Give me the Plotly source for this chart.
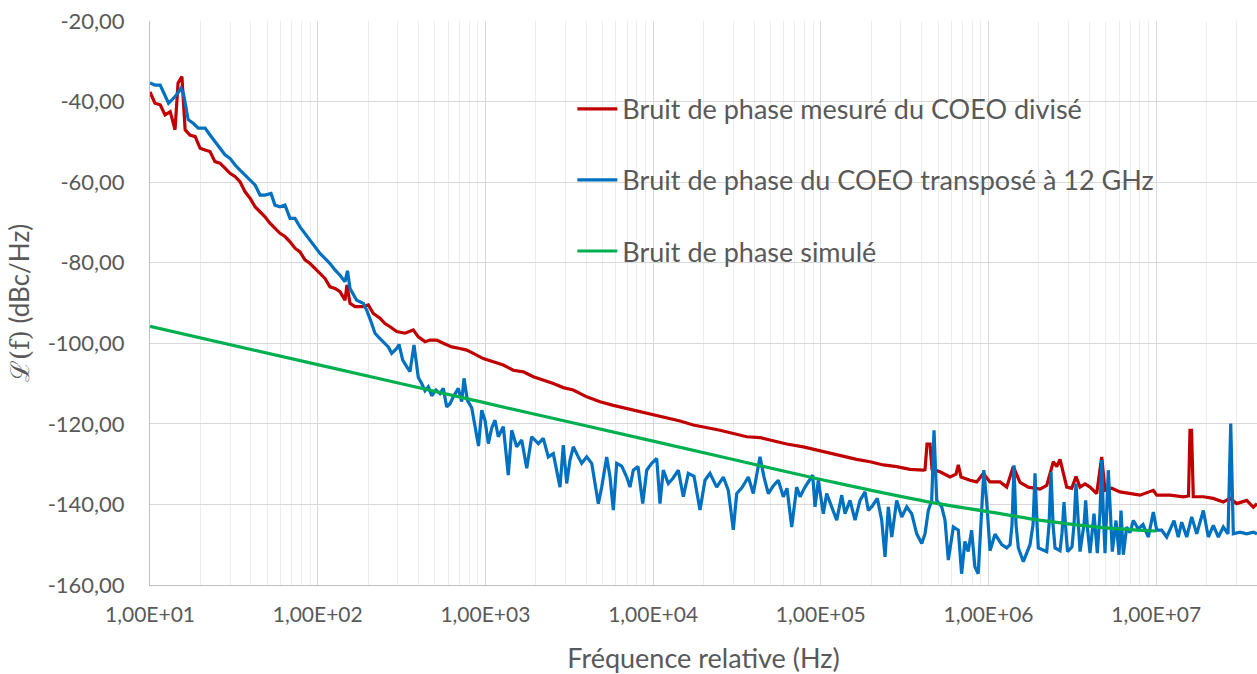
import plotly.graph_objects as go

# ---- Data -----------------------------------------------------------------
# Measured phase noise of the divided COEO (Hz, dBc/Hz)
red_freq = [10, 10.7, 11.5, 12.3, 13.2, 14.1, 14.7, 15.5, 16.2, 17.3, 18.6, 19.9,
            21.3, 22.8, 24.4, 26.1, 28.0, 30.0, 32.1, 34.4, 36.9, 39.5, 42.3, 45.3,
            48.5, 51.9, 55.6, 59.6, 63.8, 68.4, 73.2, 78.4, 84.0, 90.0, 96.3, 103.2,
            110.5, 118.4, 126.8, 135.8, 145.5, 149.5, 155.8, 166.9, 187.1, 200.3,
            214.6, 235.3, 252.0, 269.9, 295.9, 331.6, 371.7, 398.0, 436.4, 467.4,
            512.3, 561.0, 629.6, 705.6, 773.5, 847.2, 971.6, 1115, 1279, 1467, 1683,
            1931, 2215, 2541, 2914, 3343, 4018, 4825, 5790, 6959, 8353, 10030, 12050,
            14470, 17370, 20870, 25060, 30080, 36150, 43390, 52100, 62610, 78650,
            94510, 113500, 136200, 163700, 196600, 235900, 283500, 340300, 408500,
            418200, 429900, 448000, 460400, 513800, 589500, 640100, 660600, 685600,
            775700, 850600, 931100, 1.021e6, 1.171e6, 1.284e6, 1.406e6, 1.541e6,
            1.727e6, 2.028e6, 2.224e6, 2.435e6, 2.552e6, 2.670e6, 2.927e6, 3.134e6,
            3.325e6, 3.513e6, 3.762e6, 4.029e6, 4.418e6, 4.732e6, 4.951e6, 5.429e6,
            6.083e6, 6.981e6, 8.008e6, 9.610e6, 1.007e7, 1.208e7, 1.451e7, 1.558e7,
            1.590e7, 1.624e7, 1.664e7, 1.910e7, 2.191e7, 2.513e7, 2.755e7, 3.020e7,
            3.464e7, 3.794e7, 3.991e7]
red_dbc = [-37.6, -40.4, -40.8, -43.3, -42.5, -47.0, -35.4, -33.8, -47.0, -48.3, -48.7,
           -51.6, -52.0, -52.4, -54.9, -55.3, -56.5, -57.8, -58.6, -59.9, -62.4, -64.0,
           -66.1, -67.3, -68.6, -70.2, -71.5, -72.7, -73.5, -74.8, -76.4, -77.3, -79.3,
           -80.2, -81.4, -82.6, -83.9, -86.0, -86.4, -87.2, -89.3, -85.5, -90.1, -90.9,
           -90.9, -90.5, -92.6, -93.8, -95.1, -95.9, -97.1, -97.5, -96.7, -98.4, -99.6,
           -99.2, -99.2, -100.0, -100.9, -101.3, -101.7, -102.5, -103.8, -104.6,
           -105.4, -106.7, -107.1, -108.3, -109.1, -110.0, -111.0, -111.6, -113.3,
           -114.5, -115.4, -116.2, -117.0, -117.8, -118.4, -119.3, -120.3, -120.9,
           -121.6, -122.4, -123.2, -123.4, -124.3, -125.0, -125.7, -126.5, -127.2,
           -128.0, -128.8, -129.4, -130.2, -130.6, -131.3, -131.5, -131.4, -125.0,
           -125.0, -131.3, -131.9, -133.2, -132.5, -130.2, -133.2, -134.0, -134.4,
           -132.3, -134.4, -134.4, -135.7, -130.6, -134.5, -135.7, -136.2, -135.3,
           -129.4, -130.6, -128.8, -135.7, -136.0, -133.1, -135.7, -134.9, -135.7,
           -137.3, -128.2, -136.5, -136.0, -136.9, -137.3, -137.7, -136.5, -137.7,
           -137.7, -138.1, -137.9, -121.6, -121.6, -138.1, -138.1, -138.5, -139.4,
           -138.5, -139.8, -139.0, -140.7, -139.8]

# Phase noise of the COEO transposed to 12 GHz (Hz, dBc/Hz)
blue_freq = [10, 10.7, 11.5, 12.3, 12.9, 13.5, 14.4, 15.3, 15.8, 16.9, 18.1, 19.4,
             21.3, 22.8, 24.4, 26.1, 28.0, 30.0, 32.1, 34.4, 36.9, 39.5, 42.3, 45.3,
             48.5, 52.7, 55.6, 59.6, 63.8, 68.4, 73.2, 78.4, 84.0, 90.0, 96.3, 103.2,
             110.5, 118.4, 126.8, 135.8, 145.5, 150.5, 155.8, 170.8, 187.1, 196.0,
             209.9, 219.6, 229.9, 246.2, 263.6, 276.2, 295.9, 305.4, 321.3, 339.5,
             355.2, 375.2, 398.0, 417.0, 436.4, 456.6, 478.4, 507.5, 536.2, 561.0,
             587.9, 615.1, 643.6, 689.4, 722.3, 745.5, 780.0, 828.8, 867.1, 909.8,
             950.6, 994.5, 1041, 1091, 1141, 1194, 1279, 1369, 1435, 1537, 1646, 1764,
             1888, 2068, 2215, 2372, 2541, 2785, 2914, 3053, 3195, 3343, 3581, 3752,
             4018, 4305, 4713, 4937, 5289, 5535, 5790, 6066, 6499, 6959, 7283, 7620,
             8126, 8670, 9160, 9810, 10510, 10990, 11500, 12320, 13140, 14140, 15140,
             16210, 17540, 19040, 20390, 21840, 23940, 26230, 28080, 30080, 31510,
             33900, 36960, 39590, 43390, 45850, 48640, 51880, 55790, 59760, 62870,
             67060, 71820, 75150, 80520, 89460, 92330, 96630, 103500, 108400, 116100,
             124400, 133300, 139400, 149300, 160000, 171300, 183500, 192000, 202000,
             217300, 230800, 241500, 252700, 264800, 283500, 303700, 325300, 348400,
             373200, 399700, 418200, 437700, 458500, 473200, 491000, 526000, 550400,
             576000, 617000, 660600, 691100, 723100, 756400, 793000, 829600, 868000,
             897100, 913200, 938600, 978000, 1.021e6, 1.093e6, 1.199e6, 1.284e6,
             1.344e6, 1.381e6, 1.419e6, 1.459e6, 1.506e6, 1.613e6, 1.727e6, 1.768e6,
             1.843e6, 1.894e6, 1.947e6, 1.982e6, 2.224e6, 2.296e6, 2.359e6, 2.425e6,
             2.493e6, 2.670e6, 2.744e6, 2.820e6, 2.899e6, 2.960e6, 3.147e6, 3.235e6,
             3.325e6, 3.418e6, 3.513e6, 3.711e6, 3.798e6, 3.893e6, 4.029e6, 4.257e6,
             4.454e6, 4.622e6, 4.732e6, 4.837e6, 4.951e6, 5.181e6, 5.473e6, 5.758e6,
             6.000e6, 6.167e6, 6.365e6, 6.668e6, 6.981e6, 7.304e6, 7.824e6, 8.344e6,
             8.975e6, 9.610e6, 1.007e7, 1.078e7, 1.155e7, 1.277e7, 1.354e7, 1.419e7,
             1.520e7, 1.628e7, 1.744e7, 1.910e7, 2.045e7, 2.191e7, 2.346e7, 2.513e7,
             2.680e7, 2.782e7, 2.883e7, 3.160e7, 3.464e7, 3.794e7, 3.991e7]
blue_dbc = [-35.4, -35.9, -35.9, -38.8, -40.4, -39.6, -38.3, -36.7, -37.9, -44.5, -45.4,
            -46.6, -46.6, -48.3, -49.9, -51.6, -53.2, -54.1, -55.7, -57.0, -58.2, -59.5,
            -60.7, -63.2, -63.2, -62.8, -65.7, -66.1, -65.7, -69.0, -69.0, -71.1, -72.7,
            -74.4, -76.0, -77.7, -78.9, -80.2, -81.8, -83.1, -84.7, -82.0, -86.4, -89.3,
            -90.1, -91.8, -95.1, -97.5, -98.4, -99.6, -100.9, -102.5, -101.3, -100.3,
            -104.2, -105.8, -107.0, -100.4, -108.5, -110.0, -111.8, -110.8, -113.0,
            -111.6, -112.5, -111.2, -115.8, -115.0, -113.3, -111.2, -114.5, -108.7,
            -114.1, -116.0, -121.0, -125.5, -116.6, -119.1, -124.9, -121.0, -119.1,
            -123.2, -120.7, -132.7, -121.6, -125.7, -124.0, -131.0, -123.2, -124.9,
            -123.6, -128.2, -127.4, -135.7, -125.3, -134.8, -129.0, -125.7, -128.2,
            -129.8, -128.2, -129.8, -139.8, -135.7, -128.2, -133.2, -141.4, -129.8,
            -130.5, -133.2, -135.7, -131.5, -130.6, -139.8, -131.5, -129.8, -128.6,
            -139.8, -131.5, -134.8, -133.5, -131.5, -138.1, -132.3, -133.0, -141.4,
            -134.0, -132.3, -135.7, -133.2, -136.5, -146.3, -137.3, -135.8, -133.2,
            -137.3, -128.2, -133.2, -137.3, -135.5, -134.0, -138.1, -136.0, -145.6,
            -135.7, -138.1, -135.7, -132.7, -140.6, -134.0, -142.3, -137.3, -140.6,
            -143.9, -137.7, -142.3, -139.0, -143.9, -139.0, -136.9, -141.5, -140.5,
            -138.5, -143.9, -153.0, -140.6, -148.1, -139.0, -143.1, -140.6, -142.3,
            -147.3, -149.7, -147.3, -141.5, -139.0, -121.6, -139.0, -140.6, -143.9,
            -153.8, -145.6, -146.4, -157.2, -149.2, -151.7, -146.4, -155.5, -157.2,
            -144.8, -140.0, -131.5, -140.0, -151.5, -147.4, -150.0, -150.8, -150.0,
            -145.0, -130.3, -145.0, -150.8, -154.2, -150.8, -150.0, -145.0, -132.3,
            -145.0, -150.8, -151.7, -145.0, -131.9, -145.0, -150.8, -151.5, -147.0,
            -139.4, -147.0, -151.7, -150.5, -145.0, -134.8, -145.0, -151.7, -145.0,
            -139.0, -146.0, -152.1, -142.3, -152.1, -142.0, -129.0, -142.0, -152.1,
            -131.5, -151.7, -144.0, -152.5, -141.5, -152.5, -145.6, -147.0, -144.0,
            -146.1, -145.0, -148.1, -141.9, -146.4, -146.4, -148.1, -144.0, -148.1,
            -144.4, -148.1, -143.1, -147.3, -141.5, -148.1, -145.2, -148.1, -145.6,
            -147.3, -119.9, -147.3, -146.9, -147.3, -146.9, -147.3]

# Simulated phase noise (Hz, dBc/Hz)
green_freq = [10, 100, 1000, 1e4, 1e5, 2e5, 5e5, 1e6, 2e6, 5e6, 1e7]
green_dbc = [-95.8, -105.3, -114.8, -124.3, -133.8, -136.5, -139.8, -141.8, -143.9,
             -145.8, -146.6]

series_names = ["Bruit de phase mesuré du COEO divisé",
                "Bruit de phase du COEO transposé à 12 GHz",
                "Bruit de phase simulé"]

x_tick_vals = [1e1, 1e2, 1e3, 1e4, 1e5, 1e6, 1e7]
x_tick_text = ["1,00E+01", "1,00E+02", "1,00E+03", "1,00E+04", "1,00E+05",
               "1,00E+06", "1,00E+07"]
y_tick_vals = [-20, -40, -60, -80, -100, -120, -140, -160]
y_tick_text = ["-20,00", "-40,00", "-60,00", "-80,00", "-100,00", "-120,00",
               "-140,00", "-160,00"]

# ---- Style ----------------------------------------------------------------
FONT = "Lato, 'Open Sans', sans-serif"
TEXT = "#595959"
colors = ["#C00000", "#0070C0", "#00B050"]

minor_vals = [m * 10 ** k for k in range(1, 8) for m in range(2, 10)]

fig = go.Figure()
for i, (fx, fy) in enumerate([(red_freq, red_dbc), (blue_freq, blue_dbc),
                              (green_freq, green_dbc)]):
    fig.add_trace(go.Scatter(
        x=fx, y=fy, mode="lines", name=series_names[i],
        legendgroup=f"g{i}",
        line=dict(color=colors[i], width=3.2,
                  shape="spline" if i == 2 else "linear", smoothing=0.6),
    ))

fig.update_layout(
    width=1257, height=674,
    margin=dict(l=150, r=0, t=21, b=89),
    paper_bgcolor="white", plot_bgcolor="white",
    font=dict(family=FONT, color=TEXT, size=20),
    showlegend=True,
    legend=dict(
        x=0.3815, y=0.887, xanchor="left", yanchor="top",
        bgcolor="rgba(0,0,0,0)", borderwidth=0,
        font=dict(family=FONT, size=27, color=TEXT),
        tracegroupgap=33, itemwidth=40,
    ),
    xaxis=dict(
        type="log", range=[1, 7.601],
        tickmode="array", tickvals=x_tick_vals, ticktext=x_tick_text,
        tickfont=dict(size=21, color=TEXT),
        showgrid=True, gridcolor="#D9D9D9", gridwidth=1,
        minor=dict(tickmode="array", tickvals=minor_vals, showgrid=True,
                   gridcolor="#EDEDED", gridwidth=1, ticks=""),
        showline=True, linecolor="#BFBFBF", linewidth=1,
        ticks="outside", ticklen=11, tickcolor="rgba(0,0,0,0)", zeroline=False,
        title=dict(text="Fréquence relative (Hz)",
                   font=dict(size=27, color=TEXT), standoff=24),
    ),
    yaxis=dict(
        range=[-160, -20],
        tickmode="array", tickvals=y_tick_vals, ticktext=y_tick_text,
        tickfont=dict(size=22, color=TEXT),
        showgrid=True, gridcolor="#D9D9D9", gridwidth=1,
        showline=True, linecolor="#BFBFBF", linewidth=1,
        ticks="outside", ticklen=20, tickcolor="rgba(0,0,0,0)",
        zeroline=False,
        title=dict(text="<span style='font-family:DejaVu Serif'>ℒ(f)</span> (dBc/Hz)",
                   font=dict(size=26, color=TEXT), standoff=10),
    ),
)

fig.write_html("out.html")
